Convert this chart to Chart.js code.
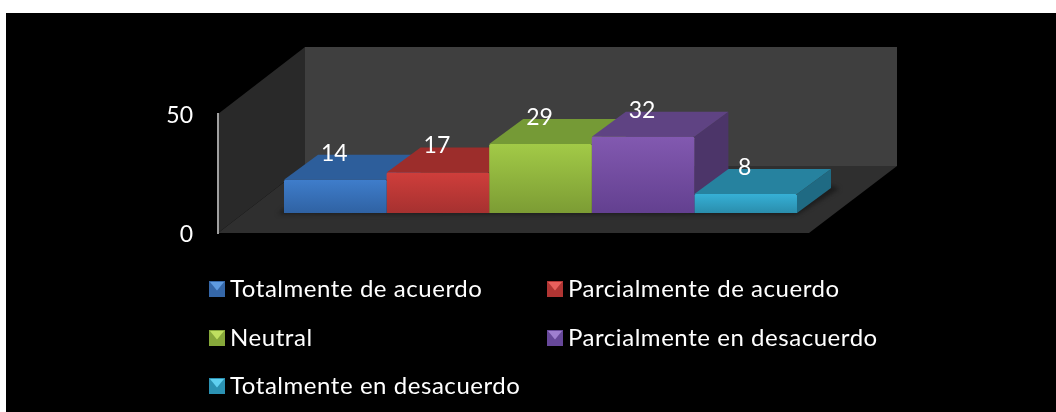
<!DOCTYPE html>
<html><head><meta charset="utf-8">
<style>html,body{margin:0;padding:0;background:#fff}canvas{display:block}</style>
<script src="https://cdn.jsdelivr.net/npm/chart.js@4"></script>
</head><body><canvas id="c" width="1056" height="412"></canvas>
<script>
const categories = ['Totalmente de acuerdo','Parcialmente de acuerdo','Neutral','Parcialmente en desacuerdo','Totalmente en desacuerdo'];
const values = [14,17,29,32,8];
const yTicks = [0,50];
const frontTop = ['#3f7dcb','#cf3e3b','#a2ca47','#8259b0','#36b0d6'];
const frontBottom = ['#2f62a3','#a63130','#7c9c34','#634090','#2a8dac'];
const topFace = ['#2d5e9b','#9c2d2b','#759a36','#5f4383','#26829f'];
const sideFace = ['#234a7a','#7a2321','#5c7a2a','#4c3569','#1f6a83'];
const swatchBase = ['#3567a8','#b03533','#86a83a','#67489a','#2b92b3'];
const swatchGlow = ['#5f9be0','#e8605c','#bfe060','#9f7fd0','#5fd0f0'];
const FONT = 'Lato, Carlito, sans-serif';
const SHIFT_X = 27, SHIFT_Y = -20, DEPTH_X = 34, DEPTH_Y = -25;

function poly(ctx, pts, fill){ ctx.beginPath(); pts.forEach((p,i)=> i?ctx.lineTo(p[0],p[1]):ctx.moveTo(p[0],p[1])); ctx.closePath(); ctx.fillStyle=fill; ctx.fill(); }

const scene = {
  id:'scene',
  beforeDraw(chart){
    const c = chart.ctx, a = chart.chartArea;
    c.save();
    c.fillStyle='#000'; c.fillRect(6,13,chart.width-6,chart.height-13);
    const dx=87, dy=-67;
    poly(c,[[a.left+dx,a.top+dy],[a.right+dx+1,a.top+dy],[a.right+dx+1,a.bottom+dy],[a.left+dx,a.bottom+dy]],'#3f3f3f');
    poly(c,[[a.left,a.top],[a.left+dx,a.top+dy],[a.left+dx,a.bottom+dy],[a.left,a.bottom]],'#292929');
    poly(c,[[a.left,a.bottom],[a.left+dx,a.bottom+dy],[a.right+dx+1,a.bottom+dy],[a.right,a.bottom]],'#2f2f2f');
    c.restore();
  },
  beforeDatasetsDraw(chart){
    const c = chart.ctx;
    c.save();
    c.translate(SHIFT_X,SHIFT_Y);
    const els = chart.data.datasets.map((d,i)=>chart.getDatasetMeta(i).data[0]);
    c.save();
    c.filter='blur(2px)';
    const first=els[0], last=els[els.length-1];
    const L=first.x-first.width/2, R=last.x+last.width/2, B=first.base;
    poly(c,[[L-6,B+1],[R,B+2],[R+DEPTH_X+8,B+DEPTH_Y+1],[R+DEPTH_X,B+DEPTH_Y-3],[R,B-4],[L,B-4]],'#1c1c1c');
    c.restore();
    els.forEach((el,i)=>{
      const l=el.x-el.width/2, r=el.x+el.width/2, t=el.y, b=el.base;
      poly(c,[[r,t],[r+DEPTH_X,t+DEPTH_Y],[r+DEPTH_X,b+DEPTH_Y],[r,b]],sideFace[i]);
      poly(c,[[l,t],[r,t],[r+DEPTH_X,t+DEPTH_Y],[l+DEPTH_X,t+DEPTH_Y]],topFace[i]);
    });
  },
  afterDatasetsDraw(chart){
    const c = chart.ctx;
    c.restore();
    c.save();
    c.fillStyle='#fff'; c.font='23px '+FONT; c.textAlign='center'; c.textBaseline='middle';
    chart.data.datasets.forEach((d,i)=>{
      const el=chart.getDatasetMeta(i).data[0];
      c.fillText(String(d.data[0]), el.x+SHIFT_X-1, el.y+SHIFT_Y-26.5);
    });
    // legend
    c.font='24px '+FONT; c.textAlign='left';
    c.letterSpacing='0.55px';
    const cols=[209,547], rows=[289,338,386];
    chart.data.datasets.forEach((d,i)=>{
      const x=cols[i%2], y=rows[Math.floor(i/2)], s=16, y0=y-8;
      c.fillStyle=swatchBase[i]; c.fillRect(x,y0,s,s);
      c.save(); c.filter='blur(0.7px)';
      poly(c,[[x+1,y0+1],[x+s-1,y0+1],[x+s/2,y0+s*0.6]],swatchGlow[i]);
      c.restore();
      c.fillStyle='#fff';
      c.fillText(d.label,x+21,y);
    });
    c.restore();
  }
};

new Chart(document.getElementById('c'),{
  type:'bar',
  data:{
    labels:[''],
    datasets:categories.map((name,i)=>({
      label:name,
      data:[values[i]],
      clip:false,
      borderWidth:0,
      borderRadius:1.5,
      backgroundColor(ctx){
        const ch=ctx.chart, sc=ch.scales && ch.scales.y;
        if(!sc||!ch.chartArea) return frontTop[i];
        const g=ch.ctx.createLinearGradient(0,sc.getPixelForValue(values[i]),0,sc.getPixelForValue(0));
        g.addColorStop(0,frontTop[i]); g.addColorStop(1,frontBottom[i]);
        return g;
      }
    }))
  },
  options:{
    responsive:false,
    animation:false,
    events:[],
    layout:{padding:{left:0,right:247,top:114,bottom:179}},
    datasets:{bar:{categoryPercentage:0.868,barPercentage:1}},
    plugins:{legend:{display:false},tooltip:{enabled:false},title:{display:false}},
    scales:{
      x:{display:false},
      y:{
        min:yTicks[0],max:yTicks[1],
        afterFit(s){s.width=218;},
        afterBuildTicks(s){s.ticks=yTicks.map(v=>({value:v}));},
        grid:{display:false},
        border:{display:true,color:'#a0a0a0',width:2},
        ticks:{color:'#fff',padding:17,labelOffset:2,font:{family:FONT,size:23},callback:v=>String(v)}
      }
    }
  },
  plugins:[scene]
});
</script></body></html>
